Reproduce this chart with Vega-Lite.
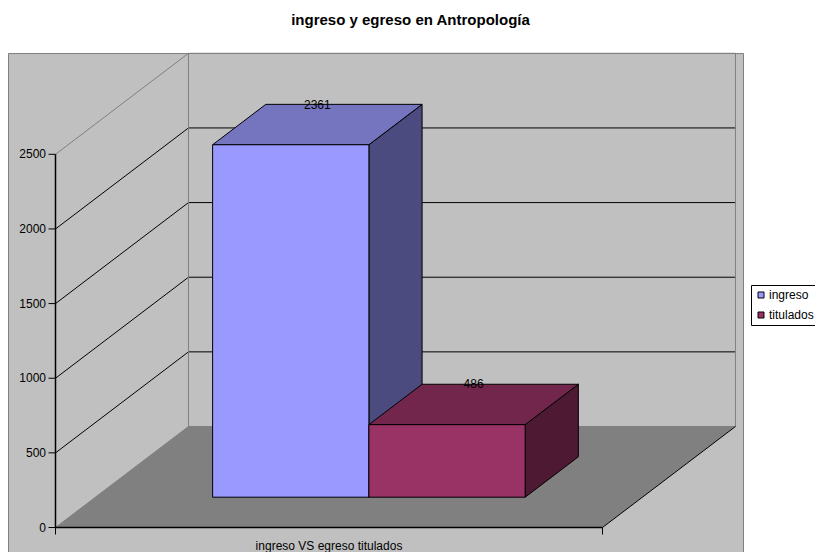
{
  "$schema": "https://vega.github.io/schema/vega-lite/v6.json",
  "width": 735,
  "height": 500,
  "autosize": {"type": "none"},
  "padding": {"left": 8, "top": 53, "right": 72, "bottom": 0},
  "background": "white",
  "config": {
    "view": {"fill": "#C0C0C0", "stroke": "#808080", "strokeWidth": 1},
    "font": "Liberation Sans"
  },
  "title": {
    "text": "ingreso y egreso en Antropología",
    "font": "Liberation Sans",
    "fontSize": 15,
    "fontWeight": "bold",
    "color": "black",
    "anchor": "middle",
    "dx": 35,
    "offset": 13,
    "baseline": "alphabetic"
  },
  "datasets": {
    "valores": [
      {"serie": "ingreso", "valor": 2361},
      {"serie": "titulados", "valor": 486}
    ],
    "marcas": [
      {"v": 0}, {"v": 500}, {"v": 1000}, {"v": 1500}, {"v": 2000}, {"v": 2500}
    ],
    "categorias": [
      {"texto": "ingreso VS egreso titulados"}
    ]
  },
  "layer": [
    {
      "data": {"name": "marcas"},
      "transform": [
        {"filter": "datum.v == 0"},
        {"calculate": "[0, 1]", "as": "d"},
        {"flatten": ["d"]},
        {"calculate": "datum.d * 0.2431", "as": "xa"},
        {"calculate": "1 + datum.d * 0.2431", "as": "xb"},
        {"calculate": "datum.v + datum.d * 676.6", "as": "ya"}
      ],
      "mark": {"type": "area", "orient": "horizontal", "fill": "#808080"},
      "encoding": {
        "y": {"field": "ya", "type": "quantitative", "scale": {"domain": [-170.8, 3178.6], "nice": false, "zero": false}, "axis": null},
        "x": {"field": "xa", "type": "quantitative", "scale": {"domain": [-0.08684, 1.25686], "nice": false, "zero": false}, "axis": null},
        "x2": {"field": "xb"}
      }
    },
    {
      "data": {"name": "marcas"},
      "transform": [
        {"calculate": "datum.v + 676.6", "as": "yb"},
        {"calculate": "datum.v > 0 && datum.v < 2500 ? 'interior' : 'borde'", "as": "clase"}
      ],
      "mark": {"type": "rule", "strokeWidth": 1},
      "encoding": {
        "x": {"datum": 0, "type": "quantitative", "scale": {"domain": [-0.08684, 1.25686], "nice": false, "zero": false}, "axis": null},
        "x2": {"datum": 0.2431},
        "y": {"field": "v", "type": "quantitative", "scale": {"domain": [-170.8, 3178.6], "nice": false, "zero": false}, "axis": null},
        "y2": {"field": "yb"},
        "stroke": {
          "field": "clase", "type": "nominal",
          "scale": {"domain": ["interior", "borde"], "range": ["black", "#808080"]},
          "legend": null
        }
      }
    },
    {
      "data": {"name": "marcas"},
      "transform": [
        {"calculate": "datum.v + 676.6", "as": "yb"},
        {"calculate": "datum.v > 0 && datum.v < 2500 ? 'interior' : 'borde'", "as": "clase"}
      ],
      "mark": {"type": "rule", "strokeWidth": 1},
      "encoding": {
        "x": {"datum": 0.2431, "type": "quantitative", "scale": {"domain": [-0.08684, 1.25686], "nice": false, "zero": false}, "axis": null},
        "x2": {"datum": 1.2431},
        "y": {"field": "yb", "type": "quantitative", "scale": {"domain": [-170.8, 3178.6], "nice": false, "zero": false}, "axis": null},
        "stroke": {
          "field": "clase", "type": "nominal",
          "scale": {"domain": ["interior", "borde"], "range": ["black", "#808080"]},
          "legend": null
        }
      }
    },
    {
      "data": {"name": "marcas"},
      "transform": [
        {"filter": "datum.v == 2500"},
        {"calculate": "[0, 1]", "as": "u"},
        {"flatten": ["u"]},
        {"calculate": "datum.u + 0.2431", "as": "xu"},
        {"calculate": "676.6", "as": "yf"},
        {"calculate": "datum.v + 676.6", "as": "yt"}
      ],
      "mark": {"type": "rule", "strokeWidth": 1, "color": "#808080"},
      "encoding": {
        "x": {"field": "xu", "type": "quantitative", "scale": {"domain": [-0.08684, 1.25686], "nice": false, "zero": false}, "axis": null},
        "y": {"field": "yf", "type": "quantitative", "scale": {"domain": [-170.8, 3178.6], "nice": false, "zero": false}, "axis": null},
        "y2": {"field": "yt"}
      }
    },
    {
      "data": {"name": "marcas"},
      "transform": [
        {"filter": "datum.v == 2500"},
        {"calculate": "0", "as": "x0"},
        {"calculate": "0", "as": "y0"}
      ],
      "mark": {"type": "rule", "strokeWidth": 1.5, "color": "black"},
      "encoding": {
        "x": {"field": "x0", "type": "quantitative", "scale": {"domain": [-0.08684, 1.25686], "nice": false, "zero": false}, "axis": null},
        "y": {"field": "y0", "type": "quantitative", "scale": {"domain": [-170.8, 3178.6], "nice": false, "zero": false}, "axis": null},
        "y2": {"field": "v"}
      }
    },
    {
      "data": {"name": "marcas"},
      "transform": [
        {"filter": "datum.v == 0"},
        {"calculate": "0", "as": "xa"},
        {"calculate": "1", "as": "xb"}
      ],
      "mark": {"type": "rule", "strokeWidth": 1.5, "color": "black"},
      "encoding": {
        "x": {"field": "xa", "type": "quantitative", "scale": {"domain": [-0.08684, 1.25686], "nice": false, "zero": false}, "axis": null},
        "x2": {"field": "xb"},
        "y": {"field": "v", "type": "quantitative", "scale": {"domain": [-170.8, 3178.6], "nice": false, "zero": false}, "axis": null}
      }
    },
    {
      "data": {"name": "marcas"},
      "transform": [
        {"filter": "datum.v == 0"},
        {"calculate": "1", "as": "xa"},
        {"calculate": "1.2431", "as": "xb"},
        {"calculate": "datum.v + 676.6", "as": "yb"}
      ],
      "mark": {"type": "rule", "strokeWidth": 1, "color": "black"},
      "encoding": {
        "x": {"field": "xa", "type": "quantitative", "scale": {"domain": [-0.08684, 1.25686], "nice": false, "zero": false}, "axis": null},
        "x2": {"field": "xb"},
        "y": {"field": "v", "type": "quantitative", "scale": {"domain": [-170.8, 3178.6], "nice": false, "zero": false}, "axis": null},
        "y2": {"field": "yb"}
      }
    },
    {
      "data": {"name": "marcas"},
      "transform": [{"calculate": "0", "as": "x0"}],
      "mark": {"type": "tick", "orient": "horizontal", "size": 7, "thickness": 1, "xOffset": -3.5, "color": "black", "opacity": 1},
      "encoding": {
        "x": {"field": "x0", "type": "quantitative", "scale": {"domain": [-0.08684, 1.25686], "nice": false, "zero": false}, "axis": null},
        "y": {"field": "v", "type": "quantitative", "scale": {"domain": [-170.8, 3178.6], "nice": false, "zero": false}, "axis": null}
      }
    },
    {
      "data": {"name": "marcas"},
      "transform": [{"calculate": "0", "as": "x0"}],
      "mark": {"type": "text", "font": "Liberation Sans", "fontSize": 12, "color": "black", "align": "right", "baseline": "middle", "dx": -9.5},
      "encoding": {
        "x": {"field": "x0", "type": "quantitative", "scale": {"domain": [-0.08684, 1.25686], "nice": false, "zero": false}, "axis": null},
        "y": {"field": "v", "type": "quantitative", "scale": {"domain": [-170.8, 3178.6], "nice": false, "zero": false}, "axis": null},
        "text": {"field": "v", "type": "quantitative", "format": "d"}
      }
    },
    {
      "data": {"name": "marcas"},
      "transform": [
        {"filter": "datum.v == 0"},
        {"calculate": "[0, 1]", "as": "u"},
        {"flatten": ["u"]}
      ],
      "mark": {"type": "tick", "orient": "vertical", "size": 7, "thickness": 1, "yOffset": 3.5, "color": "black", "opacity": 1},
      "encoding": {
        "x": {"field": "u", "type": "quantitative", "scale": {"domain": [-0.08684, 1.25686], "nice": false, "zero": false}, "axis": null},
        "y": {"field": "v", "type": "quantitative", "scale": {"domain": [-170.8, 3178.6], "nice": false, "zero": false}, "axis": null}
      }
    },
    {
      "data": {"name": "valores"},
      "transform": [
        {"window": [{"op": "row_number", "as": "n"}]},
        {"calculate": "0.2143 + 0.2857 * datum.n", "as": "u1"},
        {"calculate": "datum.serie + ' lado'", "as": "tono"},
        {"calculate": "[0.3, 0.7]", "as": "d"},
        {"flatten": ["d"]},
        {"calculate": "datum.u1 + datum.d * 0.2431", "as": "xs"},
        {"calculate": "datum.d * 676.6", "as": "ybase"},
        {"calculate": "datum.valor + datum.d * 676.6", "as": "ytop"}
      ],
      "mark": {"type": "area", "orient": "vertical", "stroke": "black", "strokeWidth": 1, "opacity": 1},
      "encoding": {
        "x": {"field": "xs", "type": "quantitative", "scale": {"domain": [-0.08684, 1.25686], "nice": false, "zero": false}, "axis": null},
        "y": {"field": "ytop", "type": "quantitative", "scale": {"domain": [-170.8, 3178.6], "nice": false, "zero": false}, "axis": null},
        "y2": {"field": "ybase"},
        "detail": {"field": "serie", "type": "nominal"},
        "fill": {
          "field": "tono", "type": "nominal",
          "scale": {
            "domain": ["ingreso arriba", "titulados arriba", "ingreso lado", "titulados lado"],
            "range": ["#7575BF", "#73264C", "#4B4B7F", "#4D1933"]
          },
          "legend": null
        }
      }
    },
    {
      "data": {"name": "valores"},
      "transform": [
        {"window": [{"op": "row_number", "as": "n"}]},
        {"calculate": "0.2143 + 0.2857 * (datum.n - 1)", "as": "u0"},
        {"calculate": "datum.u0 + 0.2857", "as": "u1"},
        {"calculate": "datum.serie + ' arriba'", "as": "tono"},
        {"calculate": "[0.3, 0.7]", "as": "d"},
        {"flatten": ["d"]},
        {"calculate": "datum.u0 + datum.d * 0.2431", "as": "xa"},
        {"calculate": "datum.u1 + datum.d * 0.2431", "as": "xb"},
        {"calculate": "datum.valor + datum.d * 676.6", "as": "yt"}
      ],
      "mark": {"type": "area", "orient": "horizontal", "stroke": "black", "strokeWidth": 1, "opacity": 1},
      "encoding": {
        "y": {"field": "yt", "type": "quantitative", "scale": {"domain": [-170.8, 3178.6], "nice": false, "zero": false}, "axis": null},
        "x": {"field": "xa", "type": "quantitative", "scale": {"domain": [-0.08684, 1.25686], "nice": false, "zero": false}, "axis": null},
        "x2": {"field": "xb"},
        "detail": {"field": "serie", "type": "nominal"},
        "fill": {
          "field": "tono", "type": "nominal",
          "scale": {
            "domain": ["ingreso arriba", "titulados arriba", "ingreso lado", "titulados lado"],
            "range": ["#7575BF", "#73264C", "#4B4B7F", "#4D1933"]
          },
          "legend": null
        }
      }
    },
    {
      "data": {"name": "valores"},
      "transform": [
        {"window": [{"op": "row_number", "as": "n"}]},
        {"calculate": "0.2143 + 0.2857 * (datum.n - 1) + 0.3 * 0.2431", "as": "xa"},
        {"calculate": "datum.xa + 0.2857", "as": "xb"},
        {"calculate": "0.3 * 676.6", "as": "ybase"},
        {"calculate": "datum.valor + 0.3 * 676.6", "as": "ytop"}
      ],
      "mark": {"type": "rect", "stroke": "black", "strokeWidth": 1, "opacity": 1},
      "encoding": {
        "x": {"field": "xa", "type": "quantitative", "scale": {"domain": [-0.08684, 1.25686], "nice": false, "zero": false}, "axis": null},
        "x2": {"field": "xb"},
        "y": {"field": "ytop", "type": "quantitative", "scale": {"domain": [-170.8, 3178.6], "nice": false, "zero": false}, "axis": null},
        "y2": {"field": "ybase"},
        "color": {
          "field": "serie", "type": "nominal",
          "scale": {"domain": ["ingreso", "titulados"], "range": ["#9999FF", "#993366"]},
          "legend": {
            "title": null,
            "orient": "none",
            "legendX": 743,
            "legendY": 232,
            "symbolType": "square",
            "symbolSize": 36,
            "symbolStrokeColor": "black",
            "symbolStrokeWidth": 1,
            "strokeColor": "black",
            "fillColor": "white",
            "padding": 4,
            "labelFont": "Liberation Sans",
            "labelFontSize": 12,
            "labelColor": "black",
            "labelOffset": 2,
            "rowPadding": 8
          }
        }
      }
    },
    {
      "data": {"name": "valores"},
      "transform": [
        {"window": [{"op": "row_number", "as": "n"}]},
        {"calculate": "0.2143 + 0.2857 * (datum.n - 0.5) + 0.5 * 0.2431", "as": "xc"},
        {"calculate": "datum.valor + 0.5 * 676.6", "as": "yc"}
      ],
      "mark": {"type": "text", "font": "Liberation Sans", "fontSize": 12, "color": "black", "baseline": "middle", "align": "center", "dy": -20},
      "encoding": {
        "x": {"field": "xc", "type": "quantitative", "scale": {"domain": [-0.08684, 1.25686], "nice": false, "zero": false}, "axis": null},
        "y": {"field": "yc", "type": "quantitative", "scale": {"domain": [-170.8, 3178.6], "nice": false, "zero": false}, "axis": null},
        "text": {"field": "valor", "type": "quantitative", "format": "d"}
      }
    },
    {
      "data": {"name": "categorias"},
      "transform": [
        {"calculate": "0.5", "as": "xc"},
        {"calculate": "0", "as": "yc"}
      ],
      "mark": {"type": "text", "font": "Liberation Sans", "fontSize": 12, "color": "black", "baseline": "middle", "align": "center", "dy": 18},
      "encoding": {
        "x": {"field": "xc", "type": "quantitative", "scale": {"domain": [-0.08684, 1.25686], "nice": false, "zero": false}, "axis": null},
        "y": {"field": "yc", "type": "quantitative", "scale": {"domain": [-170.8, 3178.6], "nice": false, "zero": false}, "axis": null},
        "text": {"field": "texto", "type": "nominal"}
      }
    }
  ]
}
